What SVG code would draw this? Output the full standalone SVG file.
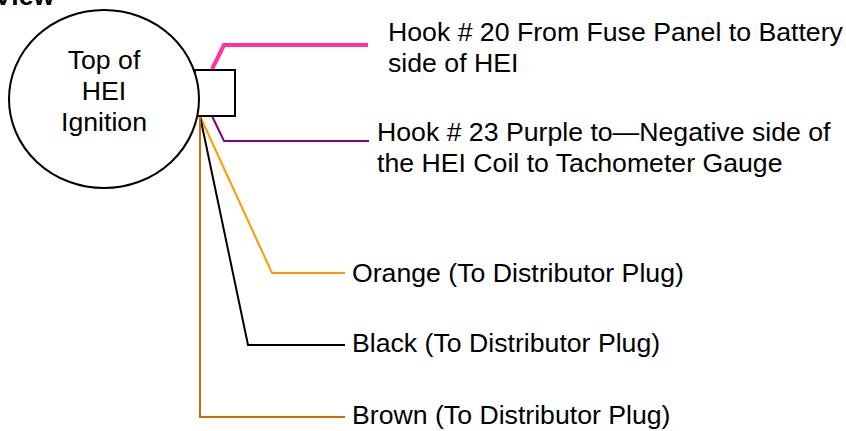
<svg xmlns="http://www.w3.org/2000/svg" width="846" height="431" viewBox="0 0 846 431">
<style>
text{font-family:"Liberation Sans",Arial,sans-serif;font-size:26.67px;fill:#000}
.c{text-anchor:middle}
.s{fill:#fff;stroke:#000;stroke-width:2}
.w{fill:none;stroke-width:2}
</style>
<rect width="846" height="431" fill="#fff"/>
<text id="title" x="-6" y="5" style="font-weight:bold">View</text>
<g id="connectors">
<polyline class="w" points="212,69 224,45 368,45" stroke="#ff3399" style="stroke-width:4"/>
<polyline class="w" points="212,116 224,141 369,141" stroke="#800080"/>
<polyline class="w" points="200,116 272,273 345,273" stroke="#ff9900"/>
<polyline class="w" points="200,116 248,345 345,345" stroke="#000"/>
<polyline class="w" points="200,116 200,417 345,417" stroke="#cc6f00"/>
</g>
<g id="connector-box"><rect class="s" x="195" y="70" width="40" height="46"/></g>
<g id="hei"><ellipse class="s" cx="104" cy="99" rx="95" ry="89"/>
<text class="c" x="104" y="69">Top of</text><text class="c" x="104" y="100">HEI</text><text class="c" x="104" y="131">Ignition</text></g>
<g id="hook20"><text x="388" y="41">Hook # 20 From Fuse Panel to Battery</text><text x="388" y="72">side of HEI</text></g>
<g id="hook23"><text x="377" y="141">Hook # 23 Purple to—Negative side of</text><text x="377" y="172">the HEI Coil to Tachometer Gauge</text></g>
<g id="orange"><text x="352" y="282">Orange (To Distributor Plug)</text></g>
<g id="black"><text x="352" y="352">Black (To Distributor Plug)</text></g>
<g id="brown"><text x="352" y="424">Brown (To Distributor Plug)</text></g>
</svg>
